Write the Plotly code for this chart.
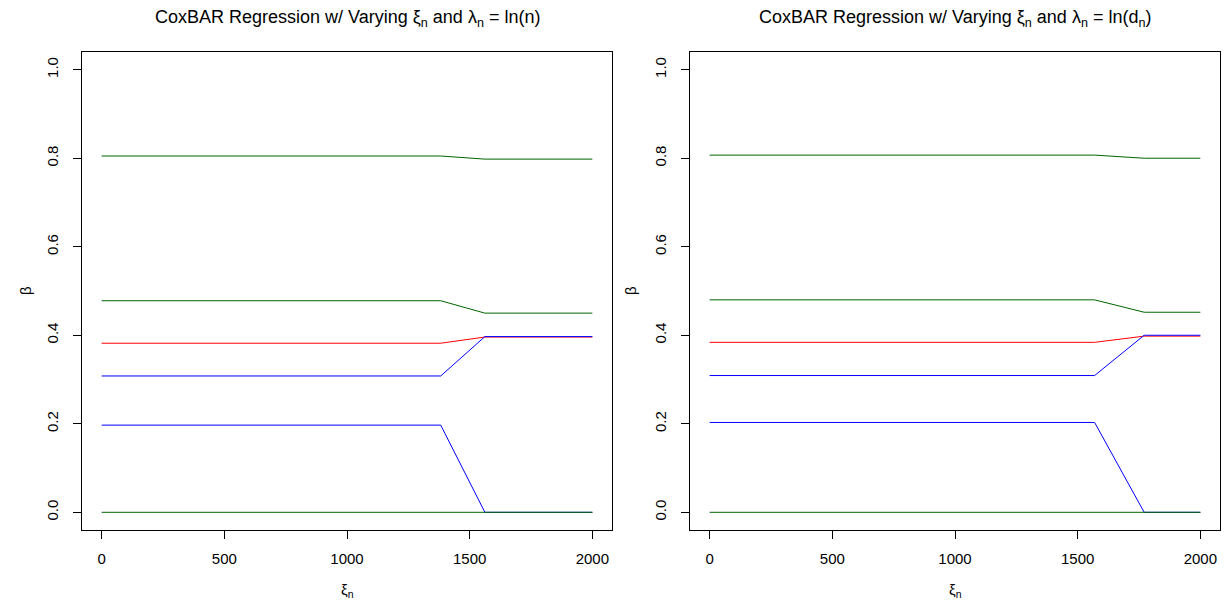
import plotly.graph_objects as go

# Left panel: lambda_n = ln(n)
xi_left = [0, 1382, 1562, 2000]
left_green_top = [0.805, 0.805, 0.798, 0.798]
left_green_mid = [0.478, 0.478, 0.450, 0.450]
left_red = [0.382, 0.382, 0.396, 0.396]
left_blue_mid = [0.308, 0.308, 0.397, 0.397]
left_blue_low = [0.197, 0.197, 0.0, 0.0]
left_green_zero = [0.0, 0.0, 0.0, 0.0]

# Right panel: lambda_n = ln(d_n)
xi_right = [0, 1569, 1771, 2000]
right_green_top = [0.807, 0.807, 0.800, 0.800]
right_green_mid = [0.480, 0.480, 0.452, 0.452]
right_red = [0.384, 0.384, 0.398, 0.398]
right_blue_mid = [0.309, 0.309, 0.400, 0.400]
right_blue_low = [0.203, 0.203, 0.0, 0.0]
right_green_zero = [0.0, 0.0, 0.0, 0.0]

x_ticks = [0, 500, 1000, 1500, 2000]
y_ticks = [0.0, 0.2, 0.4, 0.6, 0.8, 1.0]
y_tick_labels = ["0.0", "0.2", "0.4", "0.6", "0.8", "1.0"]

titles = ["CoxBAR Regression w/ Varying ξ<sub>n</sub> and λ<sub>n</sub> = ln(n)",
          "CoxBAR Regression w/ Varying ξ<sub>n</sub> and λ<sub>n</sub> = ln(d<sub>n</sub>)"]

GREEN = "#006400"
FONT = "Liberation Sans, Arial, Helvetica, sans-serif"

fig = go.Figure()

panels = [
    (xi_left, [(left_green_top, GREEN), (left_green_mid, GREEN), (left_red, "#FF0000"),
               (left_blue_mid, "#0000FF"), (left_blue_low, "#0000FF"), (left_green_zero, GREEN)], "x", "y"),
    (xi_right, [(right_green_top, GREEN), (right_green_mid, GREEN), (right_red, "#FF0000"),
                (right_blue_mid, "#0000FF"), (right_blue_low, "#0000FF"), (right_green_zero, GREEN)], "x2", "y2"),
]
for xs, series, xa, ya in panels:
    for ys, col in series:
        fig.add_trace(go.Scatter(x=xs, y=ys, mode="lines", line=dict(color=col, width=1),
                                 xaxis=xa, yaxis=ya, showlegend=False, hoverinfo="skip"))

ydom = [1 - 530 / 600, 1 - 52 / 600]
xdoms = [[82 / 1228, 612 / 1228], [690 / 1228, 1220 / 1228]]

axis_common = dict(showgrid=False, zeroline=False, showline=True, mirror=True,
                   linecolor="black", linewidth=1, ticks="outside", ticklen=8,
                   tickcolor="black", tickwidth=1,
                   tickfont=dict(family=FONT, size=15, color="black"))

fig.update_layout(
    width=1228, height=600,
    margin=dict(l=0, r=0, t=0, b=0),
    plot_bgcolor="white", paper_bgcolor="white",
    xaxis=dict(domain=xdoms[0], anchor="y", range=[-80, 2080], tickvals=x_ticks,
               ticktext=[str(v) for v in x_ticks], ticklabelstandoff=7, **axis_common),
    yaxis=dict(domain=ydom, anchor="x", range=[-0.04, 1.04], tickvals=y_ticks,
               ticktext=y_tick_labels, tickangle=-90, ticklabelstandoff=9, **axis_common),
    xaxis2=dict(domain=xdoms[1], anchor="y2", range=[-80, 2080], tickvals=x_ticks,
                ticktext=[str(v) for v in x_ticks], ticklabelstandoff=7, **axis_common),
    yaxis2=dict(domain=ydom, anchor="x2", range=[-0.04, 1.04], tickvals=y_ticks,
                ticktext=y_tick_labels, tickangle=-90, ticklabelstandoff=9, **axis_common),
)

anns = []
for i, (dom, title) in enumerate(zip(xdoms, titles)):
    cx = (dom[0] + dom[1]) / 2
    anns.append(dict(text=title, x=cx, y=1 - 19 / 600, xref="paper", yref="paper",
                     showarrow=False, xanchor="center", yanchor="middle",
                     font=dict(family=FONT, size=18, color="black")))
    anns.append(dict(text="ξ<sub>n</sub>", x=cx, y=1 - 590 / 600, xref="paper", yref="paper",
                     showarrow=False, xanchor="center", yanchor="middle",
                     font=dict(family=FONT, size=15, color="black")))
    lx = (25 if i == 0 else 630) / 1228
    anns.append(dict(text="β", x=lx, y=(ydom[0] + ydom[1]) / 2, xref="paper", yref="paper",
                     showarrow=False, xanchor="center", yanchor="middle", textangle=-90,
                     font=dict(family=FONT, size=15, color="black")))
fig.update_layout(annotations=anns)

fig.write_html("out.html", config={"displayModeBar": False},
               post_script="document.body.style.margin='0px';")
